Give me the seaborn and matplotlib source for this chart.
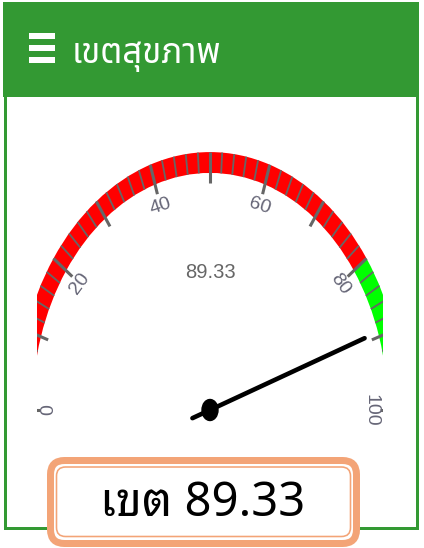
import numpy as np
import matplotlib
matplotlib.use('Agg')
import matplotlib.pyplot as plt
import seaborn as sns
from matplotlib.patches import Wedge, Rectangle, FancyBboxPatch, Ellipse

# Gauge data
title = 'เขตสุขภาพ'
box_prefix = 'เขต'
gauge_min, gauge_max = 0, 100
value = 89.33
band_edges = [0, 80, 100]
band_colors = ['#ff0000', '#00ff00']
label_values = [0, 20, 40, 60, 80, 100]
major_step = 10
minor_step = 2

sns.set_theme(style='white')
plt.rcParams['font.family'] = ['Noto Sans Thai', 'Liberation Sans', 'DejaVu Sans']

W, H = 424, 548
fig = plt.figure(figsize=(W / 100, H / 100), dpi=100)
px = 0.72  # points per pixel

# background layer in pixel coordinates
ax_bg = fig.add_axes([0, 0, 1, 1])
ax_bg.set_xlim(0, W)
ax_bg.set_ylim(H, 0)
ax_bg.axis('off')

green = '#339933'
ax_bg.add_patch(Rectangle((4.5, 3), 412, 525, facecolor='white', edgecolor=green, lw=3 * px))
ax_bg.add_patch(Rectangle((3, 1.5), 415, 95.5, facecolor=green, edgecolor='none'))
for y in [33, 45, 57]:
    ax_bg.add_patch(Rectangle((29, y), 26, 5.5, facecolor='white', edgecolor='none'))
ax_bg.text(72, 63, title, color='white', fontsize=25, fontweight='medium', va='baseline', ha='left',
           family=['Noto Sans Thai', 'DejaVu Sans'])

# bottom value box
orange = '#f3a477'
ax_bg.add_patch(FancyBboxPatch((50.5, 460.5), 306, 83, boxstyle='round,pad=0,rounding_size=14',
                               facecolor='white', edgecolor=orange, lw=7 * px, zorder=3))
ax_bg.add_patch(FancyBboxPatch((56.5, 467), 294, 69.5, boxstyle='round,pad=0,rounding_size=9',
                               facecolor='none', edgecolor=orange, lw=1.6 * px, zorder=4))
ax_bg.text(203, 516, f'{box_prefix} {value:.2f}', color='black', fontsize=34, fontweight='medium',
           ha='center', va='baseline', zorder=5,
           family=['Noto Sans Thai Looped', 'Noto Sans Thai', 'DejaVu Sans'])

# gauge layer: unit circle stretched into the panel (186 px/unit wide, 248 px/unit tall)
cx, cy, sx, sy = 210, 410, 186, 248
left, right, top, bottom = 37, 383, 100, 455
ax = fig.add_axes([left / W, (H - bottom) / H, (right - left) / W, (bottom - top) / H], zorder=2)
ax.set_xlim((left - cx) / sx, (right - cx) / sx)
ax.set_ylim((cy - bottom) / sy, (cy - top) / sy)
ax.patch.set_alpha(0)
ax.axis('off')


def to_angle(v):
    return 180 - (v - gauge_min) / (gauge_max - gauge_min) * 180


# coloured bands
r_out, r_in = 1.04, 0.956
for lo, hi, col in zip(band_edges[:-1], band_edges[1:], band_colors):
    ax.add_patch(Wedge((0, 0), r_out, to_angle(hi), to_angle(lo), width=r_out - r_in,
                       facecolor=col, edgecolor='none'))

# minor and major ticks
for v in np.arange(gauge_min, gauge_max + 0.01, minor_step):
    t = np.radians(to_angle(v))
    major = v % major_step == 0
    r0 = 0.915 if major else r_in
    ax.plot([r0 * np.cos(t), r_out * np.cos(t)], [r0 * np.sin(t), r_out * np.sin(t)],
            color='#666666', lw=2.2 if major else 1.3, solid_capstyle='butt')

# tick labels, rotated along the arc
for v in label_values:
    a = to_angle(v)
    t = np.radians(a)
    ax.text(0.865 * np.cos(t), 0.865 * np.sin(t), str(v), rotation=a - 90, rotation_mode='anchor',
            ha='center', va='center', fontsize=14, color='#666677', family=['Liberation Sans'])

ax.text(0, (cy - 272) / sy, f'{value:.2f}', ha='center', va='center', fontsize=14.5,
        color='#666666', family=['Liberation Sans'])

# needle
t = np.radians(to_angle(value))
needle = {'x': [-0.1 * np.cos(t), 0.88 * np.cos(t)], 'y': [-0.1 * np.sin(t), 0.88 * np.sin(t)]}
sns.lineplot(x=needle['x'], y=needle['y'], sort=False, color='black', lw=3.3, ax=ax)
ax.add_patch(Ellipse((0, 0), 16 / sx, 21 / sy, color='black'))

fig.savefig('out.png', dpi=100)
